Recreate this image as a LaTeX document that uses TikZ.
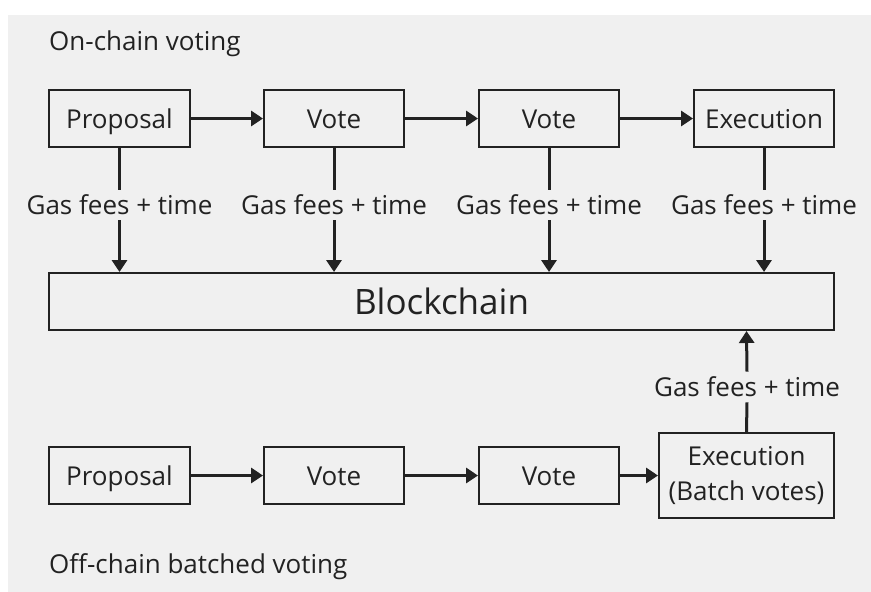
\documentclass[tikz,border=0pt]{standalone}
\usepackage{fontspec}
\setmainfont{Open Sans}
\usetikzlibrary{arrows.meta}
\definecolor{bg}{HTML}{F0F0F0}
\definecolor{ink}{HTML}{222222}
\tikzset{
  box/.style={draw=ink, line width=2pt, fill=bg, inner sep=0pt, font=\fontsize{26}{31}\selectfont, text=ink},
  one/.style={text height=19pt, text depth=0pt},
  lbl/.style={font=\fontsize{26}{31}\selectfont, text=ink, inner sep=1pt},
  arr/.style={draw=ink, line width=3pt, -{Triangle[length=12pt,width=15pt]}},
  ln/.style={draw=ink, line width=3pt},
}
\begin{document}
\begin{tikzpicture}[x=1pt,y=-1pt]
\useasboundingbox (0,0) rectangle (871,592);
\fill[white] (0,0) rectangle (871,592);
\fill[bg] (8,15) rectangle (871,592);
% titles
\node[lbl, anchor=west] (t1) at (48,44) {On-chain voting};
\node[lbl, anchor=west] (t2) at (48,567) {Off-chain batched voting};
% top row
\node[box, one, minimum width=141, minimum height=57] (p1) at (119.5,118.5) {Proposal};
\node[box, one, minimum width=140, minimum height=57] (v1) at (334,118.5) {Vote};
\node[box, one, minimum width=140, minimum height=57] (v2) at (549,118.5) {Vote};
\node[box, one, minimum width=140, minimum height=57] (e1) at (764,118.5) {Execution};
% blockchain
\node[box, minimum width=785, minimum height=57, font=\fontsize{35}{40}\selectfont] (bc) at (441.5,301.5) {Blockchain};
% bottom row
\node[box, one, minimum width=141, minimum height=57] (p2) at (119.5,475.5) {Proposal};
\node[box, one, minimum width=140, minimum height=57] (v3) at (334,475.5) {Vote};
\node[box, one, minimum width=140, minimum height=57] (v4) at (549,475.5) {Vote};
\node[box, minimum width=175, minimum height=85, align=center, font=\fontsize{26}{35}\selectfont] (e2) at (746.5,475.5) {Execution\\(Batch votes)};
% horizontal arrows
\draw[arr] (p1) -- (v1);
\draw[arr] (v1) -- (v2);
\draw[arr] (v2) -- (e1);
\draw[arr] (p2) -- (v3);
\draw[arr] (v3) -- (v4);
\draw[arr] (v4) -- (e2);
% gas labels top
\foreach \s/\x in {p1/119.5, v1/334, v2/549, e1/764} {
  \node[lbl] (g\s) at (\x,205) {Gas fees + time};
  \draw[ln] (\s.south) -- ([yshift=4pt]g\s.north);
  \draw[arr] ([yshift=-4pt]g\s.south) -- (\s.south |- bc.north);
}
% bottom gas label
\node[lbl] (gb) at (747,387) {Gas fees + time};
\draw[ln] (e2.north) -- ([yshift=-4pt]gb.south);
\draw[arr] ([yshift=4pt]gb.north) -- (e2.north |- bc.south);
\end{tikzpicture}
\end{document}
